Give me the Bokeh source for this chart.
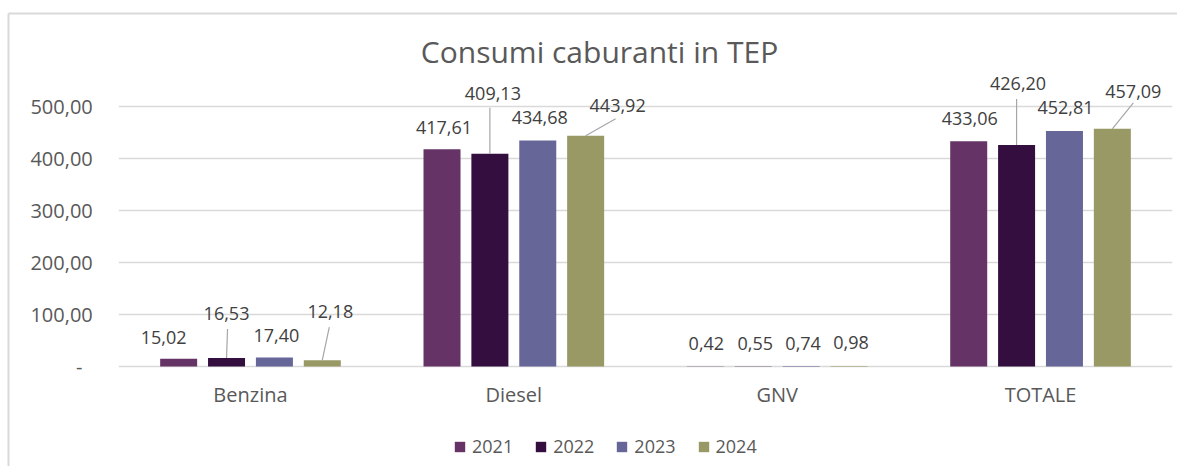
from bokeh.plotting import figure
from bokeh.models import (ColumnDataSource, Range1d, FixedTicker, Legend, LegendItem, Label)
from bokeh.core.properties import value
from bokeh.embed import file_html
from bokeh.resources import INLINE

# ---------------- data ----------------
categories = ["Benzina", "Diesel", "GNV", "TOTALE"]
years = ["2021", "2022", "2023", "2024"]
v2021 = [15.02, 417.61, 0.42, 433.06]
v2022 = [16.53, 409.13, 0.55, 426.20]
v2023 = [17.40, 434.68, 0.74, 452.81]
v2024 = [12.18, 443.92, 0.98, 457.09]
series = [v2021, v2022, v2023, v2024]
y_ticks = [0, 100, 200, 300, 400, 500]
y_tick_labels = ["-\u00a0\u00a0", "100,00", "200,00", "300,00", "400,00", "500,00"]
title_text = "Consumi caburanti in TEP"

# ---------------- style / layout (pixels) ----------------
colors = ["#663366", "#330e3f", "#666699", "#999966"]
FONT = "Open Sans"
W, H = 1177, 466
PLOT_LEFT, PLOT_RIGHT = 118.3, 1171.7   # extent of the category area
ZERO_PX = 366                           # canvas y of value 0
PX = 0.52                               # pixels per data unit (y)
CAT_PX = (PLOT_RIGHT - PLOT_LEFT) / len(categories)
BOX_LEFT, BOX_TOP = 8, 13               # chart box border
STEP = 0.1818
BAR_W = 0.1405

X0 = -PLOT_LEFT / CAT_PX
X1 = (W - PLOT_LEFT) / CAT_PX
Y0 = -(H - ZERO_PX) / PX
Y1 = ZERO_PX / PX

# label offsets in pixels (dx right, dy up) from top of each bar
label_dx = [[-15, 2, 1, 1], [0, 3, 2, 1.5], [2, 2, 2, 1], [8, 32, 2, 21]]
label_dy = [[21, 22, 23, 23], [44, 60, 23, 61], [22, 23, 23, 23.5], [49, 30, 23, 37]]
# leader lines: (series, category, end dx, end dy) in pixels
leaders = [(1, 0, 1, 29), (3, 0, 7, 33), (1, 1, 0, 46), (3, 1, 30, 17),
           (1, 3, 0, 46), (3, 3, 21, 26)]

p = figure(width=W, height=H, output_backend="svg", toolbar_location=None, title=None,
           x_range=Range1d(X0, X1), y_range=Range1d(Y0, Y1), min_border=0)
p.outline_line_color = None
p.background_fill_color = "white"
p.border_fill_color = "white"

# chart box border (left and top edges)
bx = (BOX_LEFT - PLOT_LEFT) / CAT_PX
by = (ZERO_PX - BOX_TOP) / PX
p.segment(x0=[bx, bx], y0=[by, by], x1=[bx, X1], y1=[Y0, by],
          line_color="#d9d9d9", line_width=2)

# horizontal grid lines at the y ticks, over the category area only
p.segment(x0=[0] * len(y_ticks), y0=y_ticks, x1=[len(categories)] * len(y_ticks),
          y1=y_ticks, line_color="#d9d9d9", line_width=1.5)

renderers = []
for i, vals in enumerate(series):
    xs = [c + 0.5 + (i - 1.5) * STEP for c in range(len(categories))]
    src = ColumnDataSource(dict(x=xs, top=vals))
    r = p.vbar(x="x", top="top", bottom=0, width=BAR_W, source=src,
               fill_color=colors[i], line_color=None)
    renderers.append(r)

# leader lines
lx0, ly0, lx1, ly1 = [], [], [], []
for (i, c, dx, dy) in leaders:
    xc = c + 0.5 + (i - 1.5) * STEP
    v = series[i][c]
    lx0.append(xc)
    ly0.append(v)
    lx1.append(xc + dx / CAT_PX)
    ly1.append(v + dy / PX)
p.segment(x0=lx0, y0=ly0, x1=lx1, y1=ly1, line_color="#a6a6a6", line_width=1.2)

# data labels
tx, ty, tt = [], [], []
for i, vals in enumerate(series):
    for c, v in enumerate(vals):
        xc = c + 0.5 + (i - 1.5) * STEP
        tx.append(xc + label_dx[i][c] / CAT_PX)
        ty.append(v + label_dy[i][c] / PX)
        tt.append(f"{v:.2f}".replace(".", ","))
p.text(x=tx, y=ty, text=tt, text_align="center", text_baseline="middle",
       text_font=value(FONT), text_font_size="18px", text_color="#404040")

# title
p.add_layout(Label(x=(599 - PLOT_LEFT) / CAT_PX, y=(ZERO_PX - 51) / PX,
                   text=title_text, text_align="center", text_baseline="middle",
                   text_font=FONT, text_font_size="30px", text_color="#595959"))

# axes (drawn at fixed locations inside the canvas)
p.yaxis.ticker = FixedTicker(ticks=y_ticks)
p.yaxis.major_label_overrides = {t: l for t, l in zip(y_ticks, y_tick_labels)}
p.yaxis.fixed_location = 0
p.yaxis.major_label_standoff = 20
p.yaxis.major_label_text_font = FONT
p.yaxis.major_label_text_font_size = "20px"
p.yaxis.major_label_text_color = "#595959"
x_ticks = [c + 0.5 for c in range(len(categories))]
p.xaxis.ticker = FixedTicker(ticks=x_ticks)
p.xaxis.major_label_overrides = {t: l for t, l in zip(x_ticks, categories)}
p.xaxis.fixed_location = 0
p.xaxis.major_label_standoff = 8
p.xaxis.major_label_text_font = FONT
p.xaxis.major_label_text_font_size = "20px"
p.xaxis.major_label_text_color = "#595959"
for ax in (p.xaxis, p.yaxis):
    ax.axis_line_color = None
    ax.major_tick_line_color = None
    ax.minor_tick_line_color = None
p.xgrid.grid_line_color = None
p.ygrid.grid_line_color = None

legend = Legend(items=[LegendItem(label=y, renderers=[r]) for y, r in zip(years, renderers)],
                orientation="horizontal", location=(453, H - 458),
                glyph_width=13, glyph_height=13, label_standoff=6, spacing=21,
                padding=0, margin=0, border_line_color=None, background_fill_alpha=0,
                label_text_font=FONT, label_text_font_size="18px",
                label_text_color="#595959")
p.add_layout(legend)

open("out.html", "w").write(file_html(p, INLINE))
